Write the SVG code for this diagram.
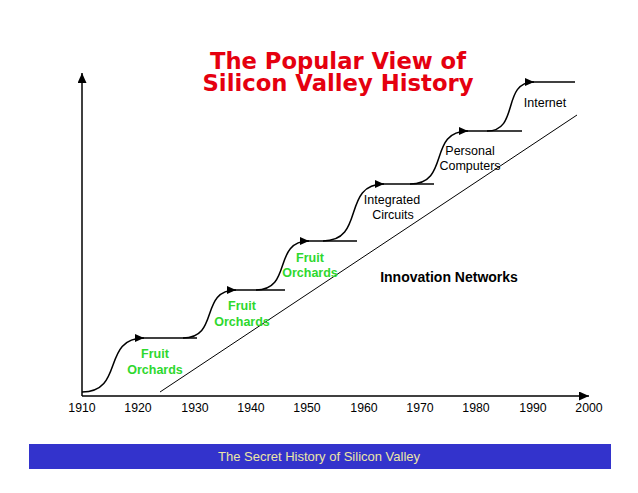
<svg xmlns="http://www.w3.org/2000/svg" width="638" height="493" viewBox="0 0 638 493">
<style>
.title{font-family:"DejaVu Sans",Verdana,sans-serif;font-weight:bold;font-size:23px;fill:#e5000f;text-anchor:middle}
.yr{font-family:"Liberation Sans",Arial,sans-serif;font-size:12.3px;fill:#000;text-anchor:middle}
.fruit{font-family:"Liberation Sans",Arial,sans-serif;font-weight:bold;font-size:12.5px;fill:#2ed82e;text-anchor:middle}
.tech{font-family:"Liberation Sans",Arial,sans-serif;font-size:12.5px;fill:#000;text-anchor:middle}
.net{font-family:"Liberation Sans",Arial,sans-serif;font-weight:bold;font-size:14px;fill:#000;text-anchor:middle}
.foot{font-family:"Liberation Sans",Arial,sans-serif;font-size:13px;fill:#ece6a6;text-anchor:middle}
.axis{stroke:#000;stroke-width:1.5;fill:none}
.step{stroke:#000;stroke-width:1.5;fill:none}
.diag{stroke:#000;stroke-width:1;fill:none}
</style>
<defs>
<marker id="ah" markerWidth="10" markerHeight="8" refX="9" refY="4" orient="auto" markerUnits="userSpaceOnUse">
<path d="M0,0 L9,4 L0,8 Z" fill="#000"/>
</marker>
<marker id="ax" markerWidth="10" markerHeight="9" refX="10" refY="4.5" orient="auto" markerUnits="userSpaceOnUse">
<path d="M0,0 L10,4.5 L0,9 Z" fill="#000"/>
</marker>
</defs>
<rect width="638" height="493" fill="#fff"/>
<g id="title">
<text class="title" x="338" y="69" textLength="256" lengthAdjust="spacingAndGlyphs">The Popular View of</text>
<text class="title" x="338" y="91" textLength="271" lengthAdjust="spacingAndGlyphs">Silicon Valley History</text>
</g>
<g id="axes">
<path class="axis" d="M82,396 L82,73" marker-end="url(#ax)"/>
<path class="axis" d="M82,396 L589,396" marker-end="url(#ax)"/>
</g>
<g id="years">
<text class="yr" x="82" y="412">1910</text>
<text class="yr" x="138" y="412">1920</text>
<text class="yr" x="195" y="412">1930</text>
<text class="yr" x="251" y="412">1940</text>
<text class="yr" x="307" y="412">1950</text>
<text class="yr" x="364" y="412">1960</text>
<text class="yr" x="420" y="412">1970</text>
<text class="yr" x="476" y="412">1980</text>
<text class="yr" x="533" y="412">1990</text>
<text class="yr" x="589" y="412">2000</text>
</g>
<g id="connectors">
<path class="diag" d="M160,392 L577,115"/>
<path class="step" d="M82,392 C125,392 101,338 144,338" marker-end="url(#ah)"/>
<path class="step" d="M136,338 L197,338"/>
<path class="step" d="M183,338 C220,338 199,290 236,290" marker-end="url(#ah)"/>
<path class="step" d="M228,290 L285,290"/>
<path class="step" d="M256,290 C293,290 272,241 309,241" marker-end="url(#ah)"/>
<path class="step" d="M301,241 L357,241"/>
<path class="step" d="M323,241 C366,241 341,184 384,184" marker-end="url(#ah)"/>
<path class="step" d="M376,184 L434,184"/>
<path class="step" d="M410,184 C451,184 427,131 468,131" marker-end="url(#ah)"/>
<path class="step" d="M460,131 L522,131"/>
<path class="step" d="M487,131 C520,131 501,82 534,82" marker-end="url(#ah)"/>
<path class="step" d="M526,82 L575,82"/>
</g>
<g id="fruit1">
<text class="fruit" x="155" y="358">Fruit</text>
<text class="fruit" x="155" y="374">Orchards</text>
</g>
<g id="fruit2">
<text class="fruit" x="242" y="310">Fruit</text>
<text class="fruit" x="242" y="326">Orchards</text>
</g>
<g id="fruit3">
<text class="fruit" x="310" y="262">Fruit</text>
<text class="fruit" x="310" y="277">Orchards</text>
</g>
<g id="ic">
<text class="tech" x="392" y="204">Integrated</text>
<text class="tech" x="393" y="219">Circuits</text>
</g>
<g id="pc">
<text class="tech" x="470" y="155">Personal</text>
<text class="tech" x="470" y="170">Computers</text>
</g>
<g id="internet">
<text class="tech" x="545" y="107">Internet</text>
</g>
<g id="innovation">
<text class="net" x="449" y="282">Innovation Networks</text>
</g>
<g id="footer">
<rect x="29" y="444" width="582" height="25" fill="#3333cc"/>
<text class="foot" x="319" y="461">The Secret History of Silicon Valley</text>
</g>
</svg>
